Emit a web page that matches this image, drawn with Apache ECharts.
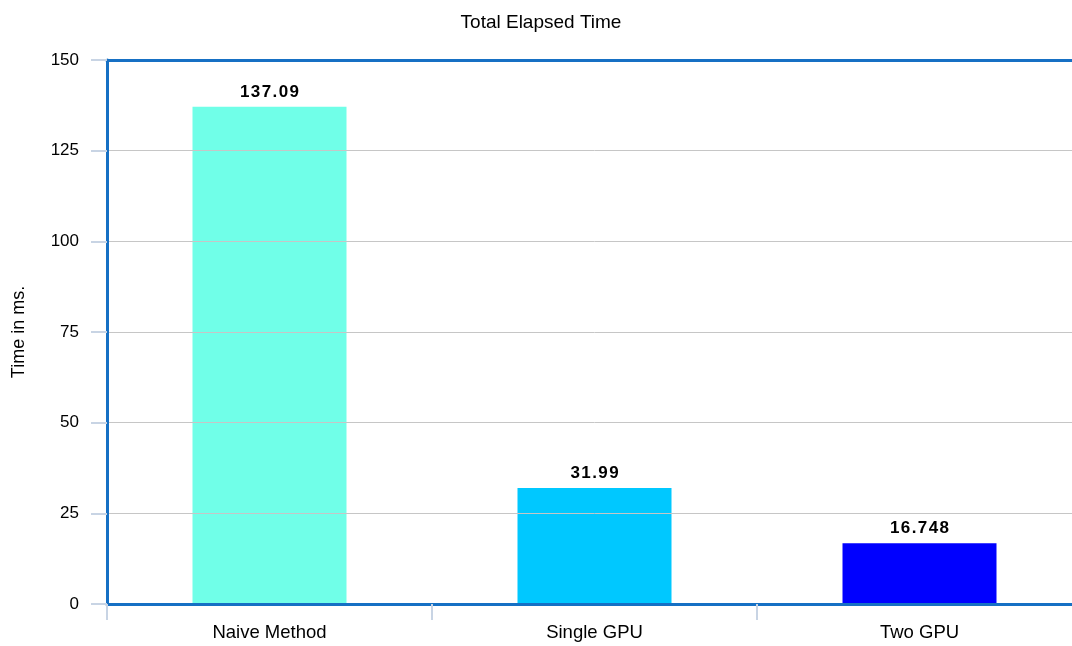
<!DOCTYPE html>
<html>
<head>
<meta charset="utf-8">
<script src="https://cdn.jsdelivr.net/npm/echarts@6/dist/echarts.min.js"></script>
<style>
  html, body { margin: 0; padding: 0; background: #ffffff; overflow: hidden; }
  #chart { width: 1082px; height: 646px; }
</style>
</head>
<body>
<div id="chart"></div>
<script>
// Elapsed time per method, in milliseconds
const categories = ['Naive Method', 'Single GPU', 'Two GPU'];
const elapsedMs = [137.09, 31.99, 16.748];
const barColors = ['#70FFE8', '#00C8FF', '#0000FF'];
const yTicks = { min: 0, max: 150, interval: 25 };

const chart = echarts.init(document.getElementById('chart'));
const font = 'Liberation Sans, Arial, sans-serif';
const frameColor = '#1670C4';
const tickStyle = { color: '#c8d4e4', width: 2 };

chart.setOption({
  animation: false,
  backgroundColor: '#ffffff',
  title: {
    text: 'Total Elapsed Time',
    left: 'center',
    top: 8,
    textStyle: { fontFamily: font, fontSize: 19, fontWeight: 'normal', color: '#000' }
  },
  grid: {
    left: 107,
    top: 60,
    bottom: 42,
    right: 0
  },
  xAxis: [{
    type: 'category',
    data: categories,
    axisLine: { show: true, lineStyle: { color: frameColor, width: 3 } },
    axisTick: { show: true, length: 16, lineStyle: tickStyle },
    axisLabel: { fontFamily: font, fontSize: 18.5, color: '#000', margin: 19 },
    z: 5
  }, {
    // top edge of the plot frame
    type: 'category',
    position: 'top',
    data: categories,
    axisLine: { show: true, lineStyle: { color: frameColor, width: 3 } },
    axisTick: { show: false },
    axisLabel: { show: false },
    z: 5
  }],
  yAxis: {
    type: 'value',
    min: yTicks.min,
    max: yTicks.max,
    interval: yTicks.interval,
    name: 'Time in ms.',
    nameLocation: 'middle',
    nameGap: 79,
    nameTextStyle: { fontFamily: font, fontSize: 18, color: '#000' },
    axisLine: { show: true, lineStyle: { color: frameColor, width: 3 } },
    axisTick: { show: true, length: 16, lineStyle: tickStyle },
    axisLabel: { fontFamily: font, fontSize: 17, color: '#000', margin: 28 },
    splitLine: { lineStyle: { color: '#c6c6c6', width: 1 } },
    z: 5
  },
  series: [{
    type: 'bar',
    barWidth: 154,
    data: elapsedMs.map((v, i) => ({ value: v, itemStyle: { color: barColors[i] } })),
    label: {
      show: true,
      position: 'top',
      distance: 6,
      fontFamily: font,
      fontSize: 17,
      fontWeight: 'bold',
      color: '#000',
      formatter: p => String(elapsedMs[p.dataIndex]).split('').join('\u200A')
    },
    z: 1
  }]
});
</script>
</body>
</html>
